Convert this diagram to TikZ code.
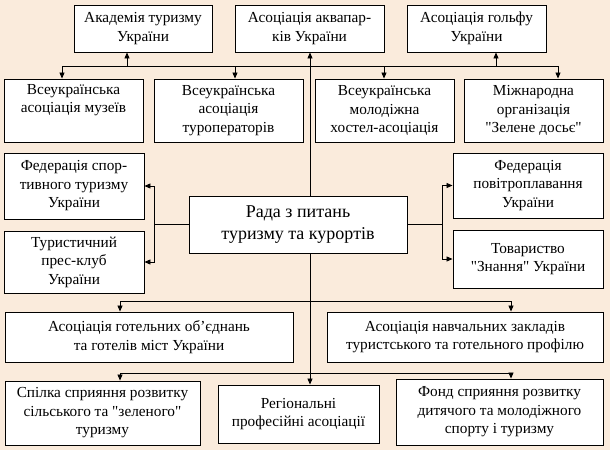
\documentclass[tikz,border=0pt]{standalone}
\usepackage{fontspec}
\newfontfamily\tf{Liberation Serif}
\usetikzlibrary{arrows.meta}
\definecolor{bgc}{HTML}{FAEBDC}
\tikzset{
  box/.style={draw=black, line width=0.9pt, fill=white, align=center, inner sep=0pt,
    font=\tf\fontsize{15.3}{18.5}\selectfont},
  bigbox/.style={box, font=\tf\fontsize{18}{22}\selectfont},
  conn/.style={line width=0.85pt},
  arr/.style={conn, -{Triangle[length=6pt,width=5pt]}}
}
\newcommand{\bx}[7]{% name, x1, y1, x2, y2, style, text
  \node[#6, minimum width={#4-#2}, minimum height={#5-#3}] (#1) at ({(#2+#4)/2},{(#3+#5)/2}) {#7};}
\begin{document}
\begin{tikzpicture}[x=1pt,y=-1pt]
\fill[bgc] (0,0) rectangle (610,450);
\useasboundingbox (0,0) rectangle (610,450);
% top row
\bx{akad}{74}{5}{212}{52}{box}{Академія туризму\\України}
\bx{aqua}{235}{5}{384}{52}{box}{Асоціація аквапар-\\ків України}
\bx{golf}{407}{5}{546}{52}{box}{Асоціація гольфу\\України}
% second row
\bx{muz}{4}{79}{143}{142}{box}{Всеукраїнська\\асоціація музеїв\\\strut}
\bx{turop}{154}{79}{303}{142}{box}{Всеукраїнська\\асоціація\\туроператорів}
\bx{hostel}{315}{79}{454}{142}{box}{Всеукраїнська\\молодіжна\\хостел-асоціація}
\bx{zel}{464}{79}{603}{142}{box}{Міжнародна\\організація\\"Зелене досьє"}
% middle
\bx{sport}{4}{153}{144}{219}{box}{Федерація спор-\\тивного туризму\\України}
\bx{press}{4}{231}{144}{293}{box}{Туристичний\\прес-клуб\\України}
\bx{rada}{189}{196}{407}{253}{bigbox}{Рада з питань\\туризму та курортів}
\bx{povitr}{453}{153}{603}{218}{box}{Федерація\\повітроплавання\\України}
\bx{znan}{453}{230}{603}{288}{box}{Товариство\\"Знання" України}
% lower
\bx{hotel}{5}{312}{293}{362}{box}{Асоціація готельних об’єднань\\та готелів міст України}
\bx{navch}{327}{312}{603}{362}{box}{Асоціація навчальних закладів\\туристського та готельного профілю}
\bx{spilka}{5}{381}{200}{445}{box}{Спілка сприяння розвитку\\сільського та "зеленого"\\туризму}
\bx{region}{218}{385}{379}{443}{box}{Регіональні\\професійні асоціації}
\bx{fond}{396}{379}{603}{445}{box}{Фонд сприяння розвитку\\дитячого та молодіжного\\спорту і туризму}
% coordinates
\coordinate (c) at (310,0);
\coordinate (tL) at (62,66);
\coordinate (tR) at (558,66);
\coordinate (tA) at (127,66);
\coordinate (tT) at (235,66);
\coordinate (tH) at (384,66);
\coordinate (tG) at (496,66);
\coordinate (lv) at (154,224.5);
\coordinate (rv) at (442,224.5);
\coordinate (m1L) at (120,301);
\coordinate (m1R) at (511,301);
\coordinate (m2L) at (120,373);
\coordinate (m2R) at (511,373);
% connectors top
\draw[arr] (rada.north -| c) -- (aqua.south -| c);
\draw[conn] (tL) -- (tR);
\draw[arr] (tL) -- (tL |- muz.north);
\draw[arr] (tT) -- (tT |- turop.north);
\draw[arr] (tH) -- (tH |- hostel.north);
\draw[arr] (tR) -- (tR |- zel.north);
\draw[arr] (tA) -- (tA |- akad.south);
\draw[arr] (tG) -- (tG |- golf.south);
% sides
\draw[conn] (rada.west) -- (lv);
\draw[arr] (lv) |- (sport.east);
\draw[arr] (lv) |- (press.east);
\draw[conn] (rada.east) -- (rv);
\draw[arr] (rv) |- (povitr.west);
\draw[arr] (rv) |- (znan.west);
% bottom
\draw[arr] (rada.south -| c) -- (region.north -| c);
\draw[conn] (m1L) -- (m1R);
\draw[arr] (m1L) -- (m1L |- hotel.north);
\draw[arr] (m1R) -- (m1R |- navch.north);
\draw[conn] (m2L) -- (m2R);
\draw[arr] (m2L) -- (m2L |- spilka.north);
\draw[arr] (m2R) -- (m2R |- fond.north);
\end{tikzpicture}
\end{document}
